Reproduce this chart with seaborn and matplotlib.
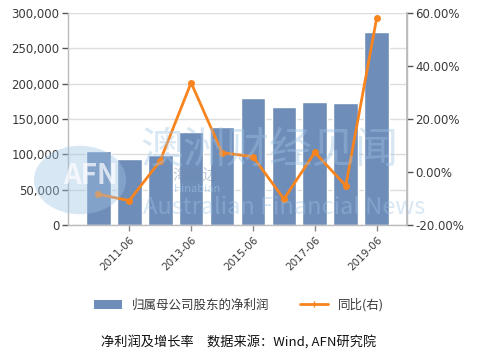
import matplotlib
matplotlib.use("Agg")
import matplotlib.pyplot as plt
from matplotlib.patches import Circle
from matplotlib.lines import Line2D
from matplotlib.patches import Patch
import seaborn as sns
import pandas as pd

# data
periods = ["2010-06", "2011-06", "2012-06", "2013-06", "2014-06",
           "2015-06", "2016-06", "2017-06", "2018-06", "2019-06"]
net_profit = [105000, 93500, 99500, 132000, 138500, 180000, 167500, 173500, 172000, 273000]
yoy_pct = [-8.4, -10.8, 4.2, 33.7, 7.3, 5.8, -10.2, 7.4, -5.2, 58.1]

left_ticks = [0, 50000, 100000, 150000, 200000, 250000, 300000]
right_ticks = [-20, 0, 20, 40, 60]

BAR_COLOR = "#6f8db9"
LINE_COLOR = "#f7841f"
TXT = "#3a3a3a"

sns.set_theme(style="white")
plt.rcParams["font.family"] = ["Noto Sans CJK SC", "DejaVu Sans"]

df = pd.DataFrame({"period": periods, "profit": net_profit, "yoy": yoy_pct})

fig = plt.figure(figsize=(4.78, 3.56), dpi=100)
ax = fig.add_axes([68 / 478, 1 - 225 / 356, (407 - 68) / 478, (225 - 13) / 356])

sns.barplot(data=df, x="period", y="profit", color=BAR_COLOR, saturation=1,
            width=0.8, ax=ax, zorder=2)
ax.set_ylim(0, 300000)
ax.set_yticks(left_ticks)
ax.set_yticklabels([f"{v:,}" for v in left_ticks], fontsize=8.5, color=TXT,
                   family="DejaVu Sans")
ax.yaxis.grid(True, color="#dddddd", linewidth=1, zorder=0)
ax.set_axisbelow(True)
ax.set_xlim(-0.98, 9.98)
ax.set_xticks(range(1, 10, 2))
ax.set_xticklabels(periods[1::2], rotation=45, ha="right", rotation_mode="anchor",
                   fontsize=7.5, color=TXT, family="DejaVu Sans")
ax.set_xlabel("")
ax.set_ylabel("")
ax.tick_params(axis="y", left=True, length=4, width=1, color="#555555", pad=2)
ax.tick_params(axis="x", bottom=True, length=4, width=1, color="#888888", pad=3)
ax.spines["top"].set_visible(False)
for s in ["left", "right", "bottom"]:
    ax.spines[s].set_color("#bbbbbb")
    ax.spines[s].set_linewidth(1)

ax2 = ax.twinx()
sns.pointplot(data=df, x="period", y="yoy", color=LINE_COLOR, markers="o",
              markersize=3.5, linewidth=2, ax=ax2, zorder=5)
ax2.set_xlim(-0.98, 9.98)
ax2.set_ylim(-20, 60)
ax2.set_yticks(right_ticks)
ax2.set_yticklabels([f"{v:.2f}%" for v in right_ticks], fontsize=8.5, color=TXT,
                    family="DejaVu Sans")
ax2.tick_params(axis="y", right=True, length=4, width=1, color="#555555", pad=2)
ax2.set_ylabel("")
ax2.set_xlabel("")
ax2.grid(False)
for s in ["top", "left", "bottom"]:
    ax2.spines[s].set_visible(False)
ax2.spines["right"].set_color("#bbbbbb")

# faint watermark
wm = "#9fc4e4"
fig.patches.append(Circle((80 / 478, 1 - 180 / 356), 46 / 478, transform=fig.transFigure,
                          facecolor=wm, alpha=0.4, edgecolor="none", zorder=10))
fig.text(90 / 478, 1 - 176 / 356, "AFN", color="white", alpha=0.7, fontsize=20,
         fontweight="bold", ha="center", va="center", zorder=11)
fig.text(140 / 478, 1 - 150 / 356, "澳洲财经见闻", color=wm, alpha=0.4, fontsize=31,
         ha="left", va="center", zorder=11)
fig.text(172 / 478, 1 - 175 / 356, "海那边", color="#6e8aa8", alpha=0.45, fontsize=11,
         ha="left", va="center", zorder=11)
fig.text(174 / 478, 1 - 189 / 356, "Hinabian", color=wm, alpha=0.6, fontsize=8,
         ha="left", va="center", zorder=11)
fig.text(143 / 478, 1 - 207 / 356, "Australian Financial News", color=wm, alpha=0.4,
         fontsize=17, ha="left", va="center", zorder=11)

handles = [Patch(facecolor=BAR_COLOR, edgecolor="none"),
           Line2D([0], [0], color=LINE_COLOR, linewidth=2, marker="|", markersize=4)]
fig.legend(handles, ["归属母公司股东的净利润", "同比(右)"], loc="center",
           bbox_to_anchor=(0.5, 1 - 305 / 356), ncol=2, frameon=False, fontsize=9,
           handlelength=2.2, handleheight=0.8, columnspacing=2.5, labelcolor=TXT)

fig.text(0.5, 1 - 343 / 356, "净利润及增长率　数据来源：Wind, AFN研究院",
         ha="center", va="center", fontsize=9.5, color="#111111")

fig.savefig("out.png", dpi=100)
